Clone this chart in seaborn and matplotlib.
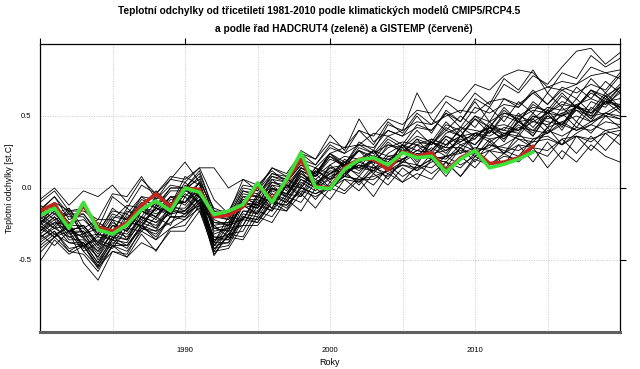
import numpy as np
import pandas as pd
import matplotlib
matplotlib.use("Agg")
import matplotlib.pyplot as plt
import seaborn as sns

# -------------------- DATA --------------------
years = list(range(1980, 2021))
obs_years = list(range(1980, 2015))

# HADCRUT4 (green), anomalies vs 1981-2010
hadcrut4 = [-0.19, -0.14, -0.28, -0.10, -0.29, -0.32, -0.255, -0.15, -0.09, -0.16,
            0.00, -0.03, -0.185, -0.16, -0.115, 0.035, -0.10, 0.06, 0.245, 0.005,
            -0.005, 0.13, 0.195, 0.21, 0.16, 0.245, 0.21, 0.22, 0.11, 0.20,
            0.26, 0.14, 0.165, 0.20, 0.25]

# GISTEMP (red)
gistemp = [-0.16, -0.11, -0.27, -0.12, -0.27, -0.30, -0.24, -0.12, -0.04, -0.13,
           0.00, -0.01, -0.20, -0.19, -0.13, 0.02, -0.08, 0.05, 0.20, 0.01,
           0.00, 0.14, 0.20, 0.20, 0.125, 0.25, 0.22, 0.245, 0.12, 0.21,
           0.26, 0.17, 0.18, 0.21, 0.29]

# CMIP5 / RCP4.5 model runs, 1980-2020
model_runs = [
    [-0.25, -0.12, -0.28, -0.35, -0.44, -0.26, -0.30, -0.16, -0.22, -0.08,
     -0.10, 0.04, -0.26, -0.34, -0.12, -0.18, 0.02, -0.06, 0.12, 0.00,
     0.16, 0.08, 0.18, 0.26, 0.14, 0.24, 0.34, 0.22, 0.30, 0.40,
     0.26, 0.42, 0.32, 0.48, 0.36, 0.52, 0.40, 0.56, 0.48, 0.60, 0.52],
    [-0.10, -0.02, -0.16, -0.14, -0.28, -0.06, -0.14, 0.02, -0.04, 0.06,
     0.04, 0.14, -0.08, -0.18, 0.06, -0.02, 0.14, 0.08, 0.24, 0.16,
     0.30, 0.24, 0.40, 0.30, 0.46, 0.38, 0.52, 0.44, 0.60, 0.52,
     0.66, 0.58, 0.76, 0.68, 0.82, 0.66, 0.80, 0.76, 0.92, 0.84, 0.90],
    [-0.45, -0.34, -0.44, -0.46, -0.58, -0.40, -0.48, -0.32, -0.44, -0.28,
     -0.22, -0.14, -0.42, -0.34, -0.36, -0.20, -0.24, -0.08, -0.16, 0.00,
     -0.08, 0.06, -0.02, 0.10, 0.02, 0.14, 0.06, 0.20, 0.08, 0.22,
     0.14, 0.26, 0.16, 0.30, 0.18, 0.32, 0.20, 0.36, 0.26, 0.38, 0.30],
    [-0.30, -0.20, -0.34, -0.38, -0.52, -0.34, -0.36, -0.20, -0.28, -0.12,
     -0.16, -0.02, -0.44, -0.28, -0.26, -0.10, -0.16, 0.02, -0.06, 0.10,
     0.00, 0.16, 0.08, 0.20, 0.12, 0.28, 0.16, 0.32, 0.24, 0.36,
     0.30, 0.40, 0.34, 0.46, 0.38, 0.54, 0.42, 0.58, 0.50, 0.64, 0.54],
    [-0.18, -0.26, -0.14, -0.32, -0.24, -0.30, -0.14, -0.22, -0.10, -0.18,
     0.02, -0.06, -0.22, -0.26, -0.06, -0.12, 0.06, -0.02, 0.14, 0.08,
     0.24, 0.16, 0.32, 0.26, 0.44, 0.40, 0.66, 0.48, 0.40, 0.50,
     0.42, 0.56, 0.46, 0.60, 0.52, 0.66, 0.56, 0.70, 0.62, 0.74, 0.66],
    [-0.15, -0.06, -0.22, -0.18, -0.32, -0.14, -0.22, -0.06, -0.14, 0.00,
     0.00, 0.12, -0.16, -0.20, -0.02, -0.06, 0.10, 0.06, 0.26, 0.20,
     0.37, 0.26, 0.48, 0.32, 0.40, 0.36, 0.50, 0.38, 0.54, 0.46,
     0.60, 0.46, 0.62, 0.56, 0.66, 0.58, 0.68, 0.62, 0.76, 0.66, 0.78],
    [-0.35, -0.26, -0.38, -0.40, -0.54, -0.36, -0.42, -0.26, -0.34, -0.20,
     -0.20, -0.08, -0.34, -0.36, -0.20, -0.24, -0.10, -0.16, 0.02, -0.08,
     0.04, -0.02, 0.08, 0.02, 0.14, 0.04, 0.16, 0.10, 0.18, 0.08,
     0.22, 0.16, 0.24, 0.18, 0.28, 0.14, 0.26, 0.18, 0.30, 0.22, 0.18],
    [-0.28, -0.34, -0.30, -0.52, -0.64, -0.44, -0.46, -0.28, -0.30, -0.14,
     -0.18, -0.04, -0.40, -0.30, -0.26, -0.08, -0.14, 0.02, -0.04, 0.12,
     0.06, 0.14, 0.10, 0.22, 0.12, 0.26, 0.20, 0.28, 0.22, 0.36,
     0.26, 0.40, 0.34, 0.44, 0.36, 0.50, 0.44, 0.54, 0.46, 0.60, 0.56],
    [-0.08, 0.00, -0.12, -0.02, -0.06, 0.02, -0.10, 0.06, -0.04, 0.08,
     0.06, 0.14, 0.14, 0.00, 0.06, 0.02, 0.12, 0.04, 0.18, 0.08,
     0.22, 0.14, 0.26, 0.20, 0.32, 0.24, 0.34, 0.30, 0.42, 0.36,
     0.48, 0.42, 0.54, 0.46, 0.58, 0.52, 0.64, 0.56, 0.68, 0.62, 0.72],
    [-0.51, -0.36, -0.46, -0.40, -0.56, -0.40, -0.44, -0.30, -0.36, -0.28,
     -0.26, -0.12, -0.47, -0.32, -0.34, -0.16, -0.20, -0.06, -0.10, 0.04,
     -0.02, 0.10, 0.04, 0.16, 0.06, 0.20, 0.12, 0.24, 0.14, 0.28,
     0.18, 0.32, 0.24, 0.34, 0.28, 0.42, 0.30, 0.46, 0.38, 0.50, 0.42],
    [-0.22, -0.14, -0.30, -0.26, -0.40, -0.22, -0.36, -0.16, -0.20, -0.06,
     -0.12, 0.00, -0.38, -0.20, -0.22, -0.04, -0.14, 0.06, 0.00, 0.14,
     0.04, 0.18, 0.12, 0.20, 0.16, 0.30, 0.18, 0.32, 0.26, 0.34,
     0.30, 0.42, 0.36, 0.46, 0.40, 0.50, 0.44, 0.58, 0.48, 0.62, 0.56],
    [-0.20, -0.28, -0.16, -0.34, -0.32, -0.36, -0.20, -0.24, -0.14, -0.20,
     0.00, -0.12, -0.24, -0.26, -0.10, -0.14, 0.00, -0.06, 0.08, 0.02,
     0.10, 0.18, 0.14, 0.12, 0.24, 0.30, 0.22, 0.26, 0.36, 0.30,
     0.34, 0.44, 0.40, 0.38, 0.50, 0.46, 0.44, 0.56, 0.52, 0.60, 0.58],
    [-0.25, -0.16, -0.32, -0.30, -0.42, -0.26, -0.30, -0.14, -0.20, -0.06,
     -0.10, 0.04, -0.28, -0.30, -0.10, -0.12, 0.04, 0.00, 0.14, 0.10,
     0.22, 0.16, 0.30, 0.24, 0.36, 0.30, 0.44, 0.40, 0.52, 0.46,
     0.62, 0.56, 0.72, 0.66, 0.78, 0.72, 0.84, 0.95, 0.97, 0.86, 0.94],
    [-0.32, -0.24, -0.30, -0.34, -0.46, -0.30, -0.32, -0.20, -0.24, -0.18,
     -0.16, -0.06, -0.36, -0.32, -0.16, -0.16, -0.04, -0.10, 0.06, 0.00,
     0.06, 0.10, 0.16, 0.12, 0.08, 0.18, 0.24, 0.22, 0.20, 0.30,
     0.26, 0.28, 0.38, 0.34, 0.32, 0.42, 0.46, 0.40, 0.44, 0.52, 0.48],
    [-0.18, -0.10, -0.16, -0.16, -0.22, -0.04, -0.06, 0.08, -0.08, 0.02,
     0.00, 0.06, -0.18, -0.22, -0.06, -0.06, 0.06, 0.04, 0.16, 0.10,
     0.24, 0.18, 0.26, 0.22, 0.34, 0.28, 0.36, 0.32, 0.46, 0.36,
     0.50, 0.42, 0.56, 0.46, 0.60, 0.52, 0.60, 0.56, 0.66, 0.60, 0.70],
    [-0.38, -0.30, -0.44, -0.38, -0.48, -0.34, -0.40, -0.26, -0.36, -0.20,
     -0.22, -0.10, -0.38, -0.38, -0.20, -0.22, -0.08, -0.14, 0.00, -0.04,
     0.00, 0.06, 0.04, 0.12, 0.16, 0.08, 0.14, 0.20, 0.18, 0.14,
     0.24, 0.30, 0.26, 0.22, 0.34, 0.36, 0.30, 0.38, 0.44, 0.40, 0.36],
    [-0.26, -0.34, -0.24, -0.42, -0.32, -0.34, -0.18, -0.28, -0.12, -0.18,
     -0.04, -0.10, -0.34, -0.34, -0.16, -0.18, -0.02, -0.06, 0.10, 0.02,
     0.14, 0.10, 0.16, 0.14, 0.20, 0.18, 0.30, 0.20, 0.34, 0.24,
     0.38, 0.32, 0.38, 0.36, 0.48, 0.38, 0.52, 0.42, 0.56, 0.50, 0.56],
    [-0.14, -0.22, -0.18, -0.32, -0.28, -0.30, -0.16, -0.20, -0.06, -0.12,
     0.04, -0.06, -0.26, -0.24, -0.08, -0.10, 0.02, 0.00, 0.12, 0.08,
     0.16, 0.22, 0.20, 0.18, 0.28, 0.32, 0.30, 0.26, 0.38, 0.42,
     0.40, 0.38, 0.50, 0.46, 0.48, 0.56, 0.54, 0.58, 0.62, 0.58, 0.66],
    [-0.42, -0.34, -0.26, -0.44, -0.55, -0.44, -0.48, -0.38, -0.43, -0.30,
     -0.30, -0.16, -0.44, -0.42, -0.26, -0.26, -0.14, -0.16, -0.04, -0.14,
     0.00, -0.04, 0.06, -0.06, 0.10, 0.04, 0.10, 0.06, 0.18, 0.08,
     0.20, 0.16, 0.22, 0.20, 0.26, 0.22, 0.34, 0.24, 0.36, 0.26, 0.38],
    [-0.24, -0.16, -0.30, -0.26, -0.38, -0.24, -0.30, -0.14, -0.18, -0.12,
     -0.10, 0.00, -0.32, -0.28, -0.12, -0.14, -0.01, -0.04, 0.08, 0.02,
     0.12, 0.10, 0.18, 0.22, 0.20, 0.24, 0.22, 0.32, 0.28, 0.28,
     0.36, 0.42, 0.38, 0.40, 0.46, 0.44, 0.50, 0.54, 0.50, 0.52, 0.58],
    [-0.30, -0.22, -0.36, -0.36, -0.48, -0.30, -0.34, -0.20, -0.24, -0.14,
     -0.14, -0.02, -0.28, -0.26, -0.12, -0.18, -0.04, -0.08, 0.06, 0.00,
     0.10, 0.08, 0.20, 0.10, 0.22, 0.20, 0.26, 0.24, 0.36, 0.32,
     0.38, 0.36, 0.42, 0.40, 0.52, 0.42, 0.56, 0.46, 0.60, 0.56, 0.68],
    [-0.20, -0.12, -0.24, -0.22, -0.32, -0.18, -0.22, -0.10, -0.14, -0.02,
     -0.02, 0.08, -0.20, -0.22, -0.04, -0.06, 0.08, 0.06, 0.18, 0.14,
     0.24, 0.28, 0.30, 0.38, 0.36, 0.40, 0.46, 0.44, 0.50, 0.54,
     0.52, 0.60, 0.62, 0.58, 0.66, 0.70, 0.68, 0.72, 0.78, 0.80, 0.76],
    [-0.34, -0.28, -0.34, -0.32, -0.44, -0.32, -0.36, -0.24, -0.28, -0.16,
     -0.18, -0.08, -0.46, -0.32, -0.30, -0.12, -0.16, -0.04, -0.06, 0.06,
     0.00, 0.12, 0.02, 0.14, 0.10, 0.16, 0.14, 0.20, 0.18, 0.28,
     0.22, 0.34, 0.24, 0.38, 0.28, 0.40, 0.36, 0.42, 0.40, 0.46, 0.44],
    [-0.22, -0.28, -0.26, -0.40, -0.36, -0.40, -0.24, -0.26, -0.14, -0.16,
     0.00, -0.10, -0.40, -0.26, -0.22, -0.06, -0.10, 0.06, 0.02, 0.14,
     0.10, 0.16, 0.14, 0.26, 0.16, 0.30, 0.20, 0.34, 0.30, 0.36,
     0.34, 0.46, 0.36, 0.50, 0.46, 0.52, 0.50, 0.62, 0.52, 0.64, 0.54],
    [-0.16, -0.06, -0.18, -0.18, -0.30, -0.16, -0.18, -0.06, -0.08, 0.06,
     0.18, 0.04, -0.14, -0.18, 0.00, -0.02, 0.10, 0.08, 0.20, 0.16,
     0.28, 0.24, 0.30, 0.28, 0.40, 0.36, 0.42, 0.40, 0.52, 0.42,
     0.56, 0.52, 0.58, 0.56, 0.68, 0.58, 0.70, 0.66, 0.72, 0.68, 0.80],
    [-0.28, -0.20, -0.30, -0.30, -0.50, -0.36, -0.38, -0.22, -0.26, -0.16,
     -0.16, -0.04, -0.38, -0.24, -0.22, -0.06, -0.10, 0.02, 0.00, 0.12,
     0.06, 0.20, 0.14, 0.20, 0.18, 0.30, 0.26, 0.32, 0.28, 0.42,
     0.36, 0.42, 0.40, 0.52, 0.42, 0.54, 0.50, 0.56, 0.54, 0.66, 0.56],
    [-0.36, -0.30, -0.42, -0.40, -0.54, -0.40, -0.40, -0.28, -0.32, -0.20,
     -0.20, -0.10, -0.40, -0.38, -0.20, -0.22, -0.10, -0.12, 0.00, -0.04,
     0.02, 0.08, 0.06, 0.06, 0.12, 0.18, 0.16, 0.14, 0.22, 0.24,
     0.28, 0.26, 0.30, 0.36, 0.34, 0.38, 0.44, 0.40, 0.46, 0.50, 0.48],
    [-0.12, -0.18, -0.14, -0.28, -0.22, -0.22, -0.12, -0.14, -0.02, -0.12,
     0.08, 0.02, -0.20, -0.20, -0.02, -0.04, 0.08, 0.04, 0.16, 0.10,
     0.24, 0.14, 0.28, 0.24, 0.30, 0.28, 0.40, 0.30, 0.44, 0.40,
     0.50, 0.46, 0.52, 0.50, 0.56, 0.54, 0.66, 0.56, 0.68, 0.64, 0.70],
    [-0.26, -0.18, -0.28, -0.28, -0.40, -0.26, -0.28, -0.16, -0.20, -0.10,
     -0.10, 0.00, -0.30, -0.28, -0.10, -0.12, 0.00, -0.04, 0.10, 0.04,
     0.10, 0.14, 0.18, 0.14, 0.16, 0.20, 0.24, 0.20, 0.22, 0.26,
     0.24, 0.30, 0.28, 0.26, 0.32, 0.34, 0.30, 0.36, 0.34, 0.38, 0.40],
    [-0.32, -0.40, -0.30, -0.44, -0.38, -0.42, -0.28, -0.30, -0.20, -0.26,
     -0.06, -0.16, -0.36, -0.36, -0.18, -0.20, -0.06, -0.10, 0.04, -0.02,
     0.08, 0.12, 0.14, 0.18, 0.14, 0.20, 0.26, 0.24, 0.26, 0.32,
     0.38, 0.34, 0.36, 0.42, 0.40, 0.38, 0.46, 0.50, 0.46, 0.52, 0.50],
    [-0.20, -0.14, -0.20, -0.20, -0.34, -0.20, -0.22, -0.08, -0.12, 0.00,
     0.00, 0.10, -0.16, -0.16, 0.02, 0.00, 0.14, 0.10, 0.24, 0.20,
     0.32, 0.28, 0.40, 0.36, 0.48, 0.44, 0.54, 0.52, 0.64, 0.60,
     0.72, 0.68, 0.78, 0.82, 0.80, 0.70, 0.74, 0.72, 0.84, 0.80, 0.82],
    [-0.24, -0.32, -0.28, -0.40, -0.34, -0.36, -0.24, -0.26, -0.14, -0.18,
     -0.02, -0.06, -0.28, -0.30, -0.10, -0.14, 0.00, -0.04, 0.12, 0.06,
     0.14, 0.16, 0.20, 0.26, 0.22, 0.24, 0.30, 0.34, 0.30, 0.36,
     0.38, 0.42, 0.44, 0.40, 0.50, 0.48, 0.52, 0.56, 0.52, 0.60, 0.62],
    [-0.30, -0.24, -0.26, -0.26, -0.38, -0.22, -0.26, -0.14, -0.16, -0.06,
     -0.06, 0.04, -0.24, -0.24, -0.08, -0.08, 0.04, 0.02, 0.14, 0.08,
     0.20, 0.16, 0.26, 0.16, 0.30, 0.26, 0.32, 0.30, 0.40, 0.36,
     0.48, 0.38, 0.52, 0.48, 0.54, 0.52, 0.58, 0.56, 0.68, 0.58, 0.70],
    [-0.40, -0.32, -0.38, -0.38, -0.52, -0.38, -0.40, -0.26, -0.30, -0.24,
     -0.18, -0.12, -0.42, -0.40, -0.22, -0.24, -0.10, -0.12, -0.02, -0.06,
     0.00, 0.08, 0.06, 0.08, 0.12, 0.16, 0.12, 0.18, 0.22, 0.16,
     0.22, 0.26, 0.24, 0.30, 0.28, 0.26, 0.34, 0.36, 0.32, 0.40, 0.42],
]

x_ticks = [1990, 2000, 2010]
y_ticks = [-0.5, 0.0, 0.5]
title_line1 = "Teplotní odchylky od třicetiletí 1981-2010 podle klimatických modelů CMIP5/RCP4.5"
title_line2 = "a podle řad HADCRUT4 (zeleně) a GISTEMP (červeně)"

# long table for seaborn
models_df = pd.DataFrame(
    [(i, y, v) for i, run in enumerate(model_runs) for y, v in zip(years, run)],
    columns=["model", "year", "anomaly"],
)
obs_df = pd.DataFrame({"year": obs_years, "hadcrut4": hadcrut4, "gistemp": gistemp})

# -------------------- PLOT --------------------
sns.set_style("white")
plt.rcParams["font.family"] = ["Liberation Sans", "DejaVu Sans"]
plt.rcParams["text.color"] = "black"
plt.rcParams["axes.labelcolor"] = "black"

fig = plt.figure(figsize=(6.4, 3.69), dpi=100)
ax = fig.add_axes([0.0625, 0.1003, 0.90625, 0.7805])

sns.lineplot(data=models_df, x="year", y="anomaly", units="model", estimator=None,
             color="black", linewidth=0.6, ax=ax, legend=False)
sns.lineplot(data=obs_df, x="year", y="gistemp", color="#c0281e", linewidth=2.6, ax=ax)
sns.lineplot(data=obs_df, x="year", y="hadcrut4", color="#3ee03a", linewidth=2.6, ax=ax)

ax.set_xlim(1980, 2020)
ax.set_ylim(-1.0, 1.0)

# dotted grid
for gx in range(1985, 2020, 5):
    ax.axvline(gx, color="#c8c8c8", linestyle=(0, (1, 1.5)), linewidth=0.7, zorder=0)
for gy in y_ticks:
    ax.axhline(gy, color="#c8c8c8", linestyle=(0, (1, 1.5)), linewidth=0.7, zorder=0)

ax.set_xticks([1980] + x_ticks + [2020])
ax.set_xticklabels([""] + [str(t) for t in x_ticks] + [""])
ax.set_yticks(y_ticks)
ax.set_yticklabels([f"{t:.1f}" for t in y_ticks])
ax.tick_params(axis="both", direction="out", length=4, width=0.8, labelsize=5.5,
               colors="black")
ax.tick_params(axis="x", pad=7)
ax.tick_params(axis="y", pad=2)
ax.tick_params(top=True, right=True, labeltop=False, labelright=False)

for side in ["left", "top", "right"]:
    ax.spines[side].set_color("black")
    ax.spines[side].set_linewidth(0.9)
ax.spines["bottom"].set_color("#606060")
ax.spines["bottom"].set_linewidth(2.2)

ax.set_xlabel("Roky", fontsize=6.5, labelpad=3, color="black")
ax.set_ylabel("Teplotní odchylky [st.C]", fontsize=6.2, labelpad=3, color="black")

fig.text(0.499, 1 - 11 / 369, title_line1, ha="center", va="center",
         fontsize=7.3, fontweight="bold", color="black")
fig.text(0.5375, 1 - 29 / 369, title_line2, ha="center", va="center",
         fontsize=7.3, fontweight="bold", color="black")

fig.savefig("out.png", dpi=100)
